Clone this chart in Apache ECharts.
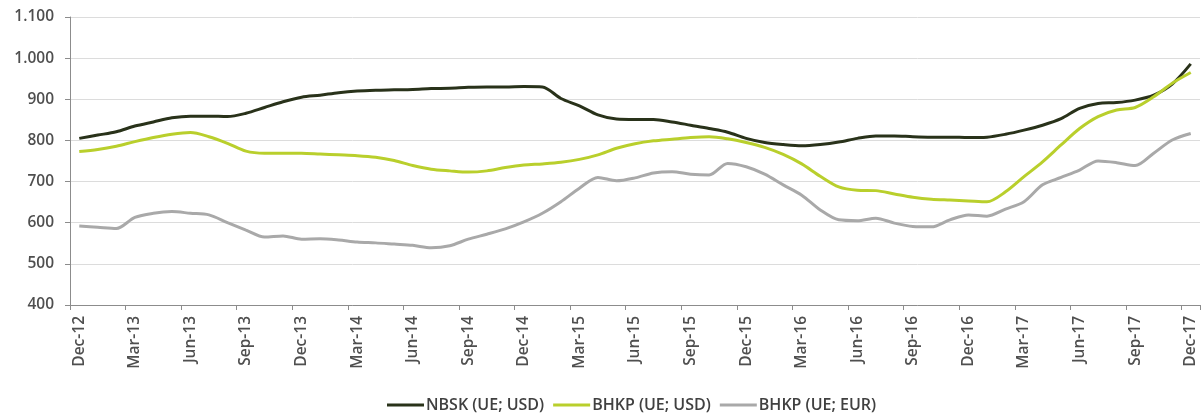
<!DOCTYPE html>
<html>
<head>
<meta charset="utf-8">
<script src="https://cdn.jsdelivr.net/npm/echarts@6/dist/echarts.min.js"></script>
<style>
  html, body { margin: 0; padding: 0; background: #fff; }
  #chart { width: 1202px; height: 414px; }
</style>
</head>
<body>
<div id="chart"></div>
<script>
// meses (Dec-12 .. Dec-17)
const months = [
  "Dec-12",
  "Jan-13", "Feb-13", "Mar-13", "Apr-13", "May-13", "Jun-13", "Jul-13", "Aug-13", "Sep-13", "Oct-13", "Nov-13", "Dec-13",
  "Jan-14", "Feb-14", "Mar-14", "Apr-14", "May-14", "Jun-14", "Jul-14", "Aug-14", "Sep-14", "Oct-14", "Nov-14", "Dec-14",
  "Jan-15", "Feb-15", "Mar-15", "Apr-15", "May-15", "Jun-15", "Jul-15", "Aug-15", "Sep-15", "Oct-15", "Nov-15", "Dec-15",
  "Jan-16", "Feb-16", "Mar-16", "Apr-16", "May-16", "Jun-16", "Jul-16", "Aug-16", "Sep-16", "Oct-16", "Nov-16", "Dec-16",
  "Jan-17", "Feb-17", "Mar-17", "Apr-17", "May-17", "Jun-17", "Jul-17", "Aug-17", "Sep-17", "Oct-17", "Nov-17", "Dec-17"
];

const nbskUsd = [
  805,
  813, 821, 835, 845, 855, 859, 859, 858, 866, 880, 894, 905,
  910, 916, 920, 922, 923, 924, 926, 927, 929, 930, 930, 931,
  930, 902, 884, 862, 852, 851, 851, 845, 837, 829, 820, 805,
  795, 790, 787, 790, 796, 805, 811, 811, 809, 808, 808, 807,
  808, 815, 825, 837, 853, 878, 890, 892, 898, 910, 937, 986
];

const bhkpUsd = [
  773,
  778, 786, 797, 807, 815, 819, 809, 793, 774, 769, 769, 769,
  767, 765, 763, 759, 751, 739, 730, 726, 723, 726, 734, 740,
  743, 747, 754, 765, 781, 792, 799, 803, 807, 809, 804, 795,
  783, 766, 743, 713, 687, 679, 678, 670, 662, 657, 655, 653,
  651, 675, 712, 748, 789, 829, 858, 874, 880, 906, 939, 965
];

const bhkpEur = [
  592,
  589, 586, 613, 623, 627, 623, 619, 600, 582, 565, 568, 560,
  561, 558, 553, 551, 548, 545, 539, 544, 560, 572, 585, 602,
  623, 651, 684, 710, 702, 709, 721, 724, 718, 716, 744, 736,
  718, 692, 667, 631, 607, 605, 611, 599, 591, 590, 607, 619,
  616, 633, 651, 692, 710, 728, 750, 746, 739, 769, 801, 817
];

const seriesNames = ["NBSK (UE; USD)", "BHKP (UE; USD)", "BHKP (UE; EUR)"];
const colors = ["#29321a", "#b9cf2c", "#a9a9a9"];

const chart = echarts.init(document.getElementById("chart"));

const fmt = v => {
  // separador de milhares com ponto
  return String(v).replace(/\B(?=(\d{3})+(?!\d))/g, ".");
};

const option = {
  animation: false,
  color: colors,
  textStyle: { fontFamily: "Open Sans" },
  legend: {
    data: seriesNames,
    left: 382,
    top: 392,
    icon: "rect",
    itemWidth: 37,
    itemHeight: 3,
    itemGap: 9,
    textStyle: { color: "#404040", fontSize: 16, fontWeight: 600, fontFamily: "Open Sans", padding: [0, 0, 0, -3] }
  },
  grid: {
    left: 70,
    right: 2,
    top: 17,
    bottom: 109
  },
  xAxis: {
    type: "category",
    data: months,
    boundaryGap: true,
    axisLine: { lineStyle: { color: "#8c8c8c", width: 1 } },
    axisTick: {
      show: true,
      interval: 2,
      length: 5,
      lineStyle: { color: "#8c8c8c" }
    },
    axisLabel: {
      interval: 2,
      rotate: 90,
      margin: 11,
      color: "#4f4f4f",
      fontSize: 15.5,
      fontWeight: 600,
      fontFamily: "Open Sans"
    },
    splitLine: { show: false }
  },
  yAxis: {
    type: "value",
    min: 400,
    max: 1100,
    interval: 100,
    axisLine: { show: true, lineStyle: { color: "#8c8c8c", width: 1 } },
    axisTick: { show: true, length: 5, lineStyle: { color: "#8c8c8c" } },
    axisLabel: {
      margin: 16,
      color: "#4f4f4f",
      fontSize: 15.5,
      fontWeight: 600,
      fontFamily: "Open Sans",
      formatter: fmt
    },
    splitLine: { lineStyle: { color: "#dcdcdc", width: 1 } }
  },
  series: [
    {
      name: seriesNames[0],
      type: "line",
      smooth: 0.3,
      symbol: "none",
      lineStyle: { width: 3, color: colors[0] },
      data: nbskUsd
    },
    {
      name: seriesNames[1],
      type: "line",
      smooth: 0.3,
      symbol: "none",
      lineStyle: { width: 3, color: colors[1] },
      data: bhkpUsd
    },
    {
      name: seriesNames[2],
      type: "line",
      smooth: 0.3,
      symbol: "none",
      lineStyle: { width: 3, color: colors[2] },
      data: bhkpEur
    }
  ]
};

chart.setOption(option);
window.onresize = () => {
  chart.resize();
};
</script>
</body>
</html>
